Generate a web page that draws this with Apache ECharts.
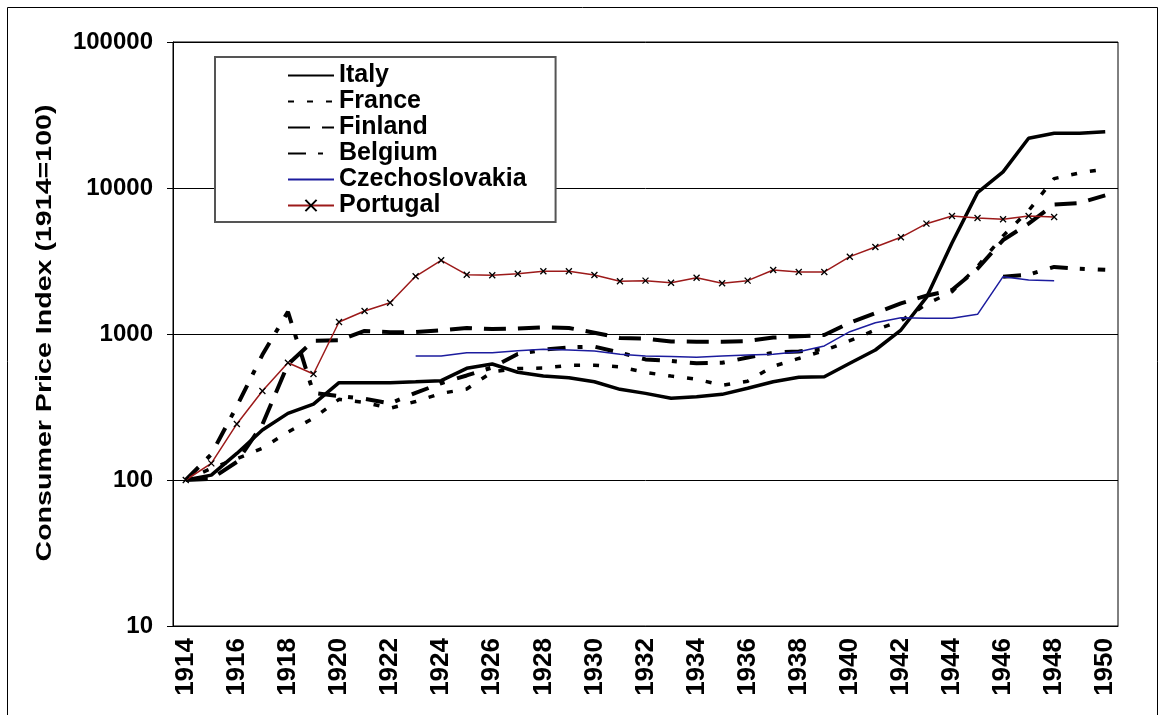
<!DOCTYPE html>
<html>
<head>
<meta charset="utf-8">
<title>Consumer Price Index (1914=100)</title>
<script src="https://cdn.jsdelivr.net/npm/echarts@6/dist/echarts.min.js"></script>
<style>
html, body { margin: 0; padding: 0; background: #fff; }
#main { width: 1161px; height: 715px; }
</style>
</head>
<body>
<div id="main"></div>
<script>
var years = ['1914','1915','1916','1917','1918','1919','1920','1921','1922','1923',
             '1924','1925','1926','1927','1928','1929','1930','1931','1932','1933',
             '1934','1935','1936','1937','1938','1939','1940','1941','1942','1943',
             '1944','1945','1946','1947','1948','1949','1950'];

var italy = [100,108,152,220,286,331,464,464,464,471,
             479,582,623,547,516,502,471,418,392,363,
             372,386,425,471,505,510,630,777,1065,1780,
             4200,9300,12900,21900,23700,23700,24300];

var france = [100,120,140,165,213,265,357,340,310,345,
              392,420,550,580,585,610,612,595,545,515,
              490,445,475,600,680,770,900,1065,1230,1600,
              1950,2900,4700,7000,11600,12700,13500];

var finland = [100,102,133,240,620,900,905,1050,1030,1030,
               1060,1100,1080,1090,1110,1100,1020,940,930,890,
               885,885,895,945,965,985,1195,1390,1620,1830,
               2000,2800,4400,5700,7700,7900,8900];

var belgium = [100,150,320,720,1420,395,375,360,335,395,
               460,520,590,730,780,810,820,745,670,655,
               630,635,690,745,760,790,null,null,null,null,
               null,null,2470,2550,2880,2800,2750];

var czechoslovakia = [null,null,null,null,null,null,null,null,null,707,
                      707,745,745,769,785,778,765,726,707,700,
                      692,707,718,726,757,828,1037,1195,1294,1280,
                      1280,1364,2470,2343,2320,null,null];

var portugal = [100,130,242,407,636,532,1208,1437,1638,2484,
                3198,2548,2524,2588,2688,2688,2535,2296,2320,2246,
                2430,2224,2320,2744,2660,2660,3386,3944,4595,5698,
                6430,6231,6105,6430,6329,null,null];

var yTitle = 'Consumer Price Index (1914=100)';
var font = 'Liberation Sans, Arial, sans-serif';

var myChart = echarts.init(document.getElementById('main'));
var noDot = { opacity: 0 };
var option = {
    animation: false,
    backgroundColor: '#fff',
    graphic: [
        {
            type: 'rect',
            shape: { x: 7.5, y: 7.5, width: 1150, height: 720 },
            style: { fill: 'none', stroke: '#000', lineWidth: 1 },
            silent: true
        },
        {
            // axis title, stretched along its length like the original
            type: 'text',
            x: 45, y: 333,
            rotation: Math.PI / 2,
            scaleX: 1.3,
            style: {
                text: yTitle,
                font: 'bold 22px ' + font,
                fill: '#000',
                align: 'center',
                verticalAlign: 'middle'
            },
            silent: true
        }
    ],
    grid: {
        left: 173, right: 43, top: 42, bottom: 89,
        show: true, borderColor: '#000', borderWidth: 1
    },
    legend: {
        orient: 'vertical',
        left: 215, top: 57,
        padding: [6, 29, 4, 72],
        itemWidth: 46, itemHeight: 14, itemGap: 1,
        borderColor: '#555', borderWidth: 2,
        backgroundColor: '#fff',
        textStyle: { fontFamily: font, fontWeight: 'bold', fontSize: 25, color: '#000', lineHeight: 25 },
        data: [
            { name: 'Italy', itemStyle: noDot },
            { name: 'France', itemStyle: noDot },
            { name: 'Finland', itemStyle: noDot },
            { name: 'Belgium', itemStyle: noDot },
            { name: 'Czechoslovakia', itemStyle: noDot },
            { name: 'Portugal' }
        ]
    },
    xAxis: {
        type: 'category',
        data: years,
        boundaryGap: true,
        axisLine: { lineStyle: { color: '#000', width: 1 } },
        axisTick: { interval: 0, length: 6, lineStyle: { color: '#000' } },
        axisLabel: {
            interval: 1, rotate: 90, margin: 12,
            fontFamily: font, fontWeight: 'bold', fontSize: 26, color: '#000'
        },
        splitLine: { show: false }
    },
    yAxis: {
        type: 'log',
        logBase: 10,
        min: 10, max: 100000,
        axisLine: { show: true, lineStyle: { color: '#000', width: 1 } },
        axisTick: { show: true, length: 6, lineStyle: { color: '#000' } },
        axisLabel: {
            margin: 20, fontFamily: font, fontWeight: 'bold', fontSize: 24, color: '#000',
            formatter: function (v) { return String(Math.round(v)); }
        },
        splitLine: { show: true, lineStyle: { color: '#000', width: 1 } }
    },
    series: [
        {
            name: 'Italy', type: 'line', data: italy,
            symbol: 'none', color: '#000',
            lineStyle: { color: '#000', width: 3.5 }
        },
        {
            name: 'France', type: 'line', data: france,
            symbol: 'none', color: '#000',
            lineStyle: { color: '#000', width: 3.5, type: [6, 13] }
        },
        {
            name: 'Finland', type: 'line', data: finland,
            symbol: 'none', color: '#000',
            lineStyle: { color: '#000', width: 4, type: [22, 12] }
        },
        {
            name: 'Belgium', type: 'line', data: belgium,
            symbol: 'none', color: '#000',
            lineStyle: { color: '#000', width: 4, type: [18, 12, 5, 13] }
        },
        {
            name: 'Czechoslovakia', type: 'line', data: czechoslovakia,
            symbol: 'none', color: '#1c1c9e',
            lineStyle: { color: '#1c1c9e', width: 1.5 }
        },
        {
            name: 'Portugal', type: 'line', data: portugal,
            symbol: 'path://M0 0L10 10M10 0L0 10', symbolSize: 6,
            color: '#000',
            itemStyle: { color: '#000', borderColor: '#000', borderWidth: 1.3 },
            lineStyle: { color: '#9c1a1a', width: 1.5 }
        }
    ]
};
myChart.setOption(option);

window.onresize = function () {
    myChart.resize();
};
</script>
</body>
</html>
